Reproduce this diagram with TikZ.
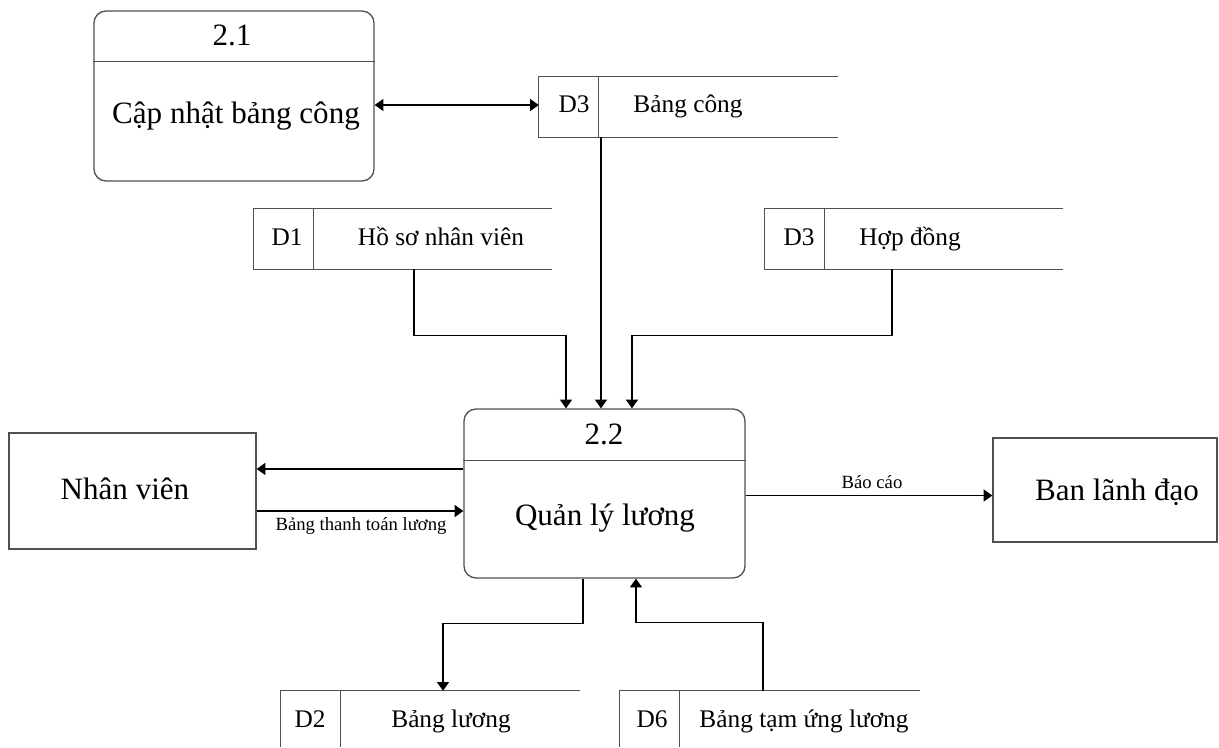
\documentclass[tikz,border=0pt]{standalone}
\usepackage{fontspec}
\setmainfont{Liberation Serif}
\usetikzlibrary{arrows.meta}

\begin{document}
\begin{tikzpicture}[x=0.75pt,y=-0.75pt,
  boxline/.style={draw={rgb,255:red,80;green,80;blue,80}, line width=1pt},
  procbox/.style={boxline, rounded corners=9pt, inner sep=0pt},
  extbox/.style={boxline, inner sep=0pt},
  storebox/.style={inner sep=0pt, minimum height=45pt},
  edge/.style={draw=black, line width=0.9pt},
  tip/.style={},
  flow/.style={edge, -{Triangle[width=9pt,length=6.5pt]}},
  bothflow/.style={edge, {Triangle[width=9pt,length=6.5pt]}-{Triangle[width=9pt,length=6.5pt]}},
  bigtext/.style={anchor=base, inner sep=0pt, font=\fontsize{23.3}{28}\selectfont},
  storetext/.style={anchor=base, inner sep=0pt, font=\fontsize{19}{23}\selectfont},
  flowtext/.style={anchor=base, inner sep=0pt, font=\fontsize{14}{17}\selectfont},
]
\useasboundingbox (0,0) rectangle (1219,747);

% processes
\node[procbox, minimum width=210pt, minimum height=127.5pt] (p21) at (234,96) {};
\draw[boxline] ([yshift=-38.25pt]p21.north west) -- ([yshift=-38.25pt]p21.north east);
\node[bigtext] (p21id) at (232,45) {2.1};
\node[bigtext] (p21name) at (236,123) {Cập nhật bảng công};

\node[procbox, minimum width=210.75pt, minimum height=126.75pt] (p22) at (604.5,493.5) {};
\draw[boxline] ([yshift=-39pt]p22.north west) -- ([yshift=-39pt]p22.north east);
\node[bigtext] (p22id) at (604,444) {2.2};
\node[bigtext] (p22name) at (605,525) {Quản lý lương};

% external entities
\node[extbox, minimum width=185.25pt, minimum height=87pt] (nv) at (132.5,491) {};
\node[bigtext] (nvname) at (125,499) {Nhân viên};
\node[extbox, minimum width=168pt, minimum height=78pt] (bld) at (1105,490) {};
\node[bigtext] (bldname) at (1117,500) {Ban lãnh đạo};

% data stores (open on the right)
\node[storebox, minimum width=224.25pt] (s3) at (688.5,107) {};
\node[storebox, minimum width=223.5pt] (s1) at (403,239) {};
\node[storebox, minimum width=223.5pt] (s3b) at (914,239) {};
\node[storebox, minimum width=224.25pt, minimum height=42pt] (s2) at (430.5,719) {};
\node[storebox, minimum width=225pt, minimum height=42pt] (s6) at (770,719) {};

\foreach \s in {s3,s1,s3b} {
  \draw[boxline] (\s.north east) -- (\s.north west) -- (\s.south west) -- (\s.south east);
  \draw[boxline] ([xshift=45pt]\s.north west) -- ([xshift=45pt]\s.south west);
}
\foreach \s in {s2,s6} {
  \draw[boxline] (\s.north east) -- (\s.north west) -- (\s.south west);
  \draw[boxline] ([xshift=45pt]\s.north west) -- ([xshift=45pt]\s.south west);
}

\node[storetext] (s3id) at (574,112) {D3};
\node[storetext] (s3name) at (688,112) {Bảng công};
\node[storetext] (s1id) at (287,245) {D1};
\node[storetext] (s1name) at (441,245) {Hồ sơ nhân viên};
\node[storetext] (s3bid) at (799,245) {D3};
\node[storetext] (s3bname) at (910,245) {Hợp đồng};
\node[storetext] (s2id) at (310,727) {D2};
\node[storetext] (s2name) at (451,727) {Bảng lương};
\node[storetext] (s6id) at (652,727) {D6};
\node[storetext] (s6name) at (804,727) {Bảng tạm ứng lương};

% flows
\coordinate (a1) at ([yshift=1.5pt]s3.west);
\draw[bothflow] (p21.east |- a1) -- (a1);

\coordinate (in1) at ([xshift=-28.875pt]p22.north);
\coordinate (in2) at ([xshift=-2.625pt]p22.north);
\coordinate (in3) at ([xshift=20.6pt]p22.north);
\draw[flow] ([xshift=8.25pt]s1.south) -- ++(0,66) -| (in1);
\draw[flow] (s3.south -| in2) -- (in2);
\draw[flow] ([xshift=-16.5pt]s3b.south) -- ++(0,66) -| (in3);

\coordinate (o1) at ([yshift=18.4pt]p22.west);
\draw[flow] (o1) -- (o1 -| nv.east);
\coordinate (o2) at ([yshift=-15pt]nv.east);
\draw[flow] (o2) -- (o2 -| p22.west);
\node[flowtext] (lblpay) at (361,530) {Bảng thanh toán lương};

\coordinate (o3) at ([yshift=-1.5pt]p22.east);
\draw[flow] (o3) -- (o3 -| bld.west);
\node[flowtext] (lblrep) at (872,488) {Báo cáo};

\coordinate (b1) at ([xshift=-16.125pt]p22.south);
\coordinate (b2) at ([xshift=9.375pt]s2.north);
\draw[flow] (b1) -- ++(0,45) -| (b2);
\coordinate (b3) at ([xshift=-5.25pt]s6.north);
\coordinate (b4) at ([xshift=23.6pt]p22.south);
\draw[flow] (b3) -- ++(0,-68) -| (b4);
\end{tikzpicture}
\end{document}
